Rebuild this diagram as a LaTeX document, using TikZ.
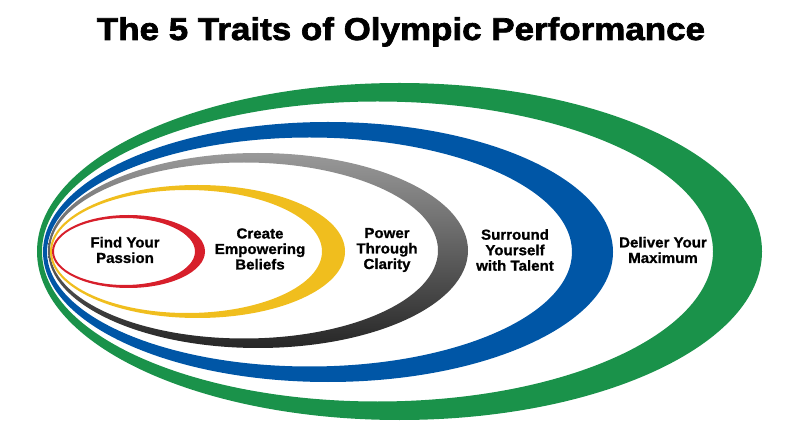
\documentclass[tikz,border=0pt]{standalone}
\usepackage{fontspec}
\setmainfont{Liberation Sans}
\newfontfamily\titlefont[FakeBold=2.2,FakeStretch=1.11]{Liberation Sans Bold}
\newfontfamily\traitfont[FakeBold=1,FakeStretch=1.04]{Liberation Sans Bold}
\definecolor{ringred}{HTML}{D71F2B}
\definecolor{ringyellow}{HTML}{F0BE1E}
\definecolor{ringblue}{HTML}{0056A6}
\definecolor{ringgreen}{HTML}{1A924A}
\tikzset{trait/.style={align=center,inner sep=0pt,font=\traitfont\fontsize{14.5}{15.5}\selectfont}}
\begin{document}
\begin{tikzpicture}[x=1pt,y=1pt]
\useasboundingbox (0,0) rectangle (800,-435);
\node[anchor=base,font=\titlefont\fontsize{31.5}{36}\selectfont] (title) at (401,-40) {The 5 Traits of Olympic Performance};
% rings, from the outside in
\fill[ringgreen,even odd rule] (399.5,-251.5) ellipse [x radius=362.5pt,y radius=168.5pt] (377.5,-251.5) ellipse [x radius=335.5pt,y radius=150pt];
\fill[ringblue,even odd rule] (328,-252) ellipse [x radius=285pt,y radius=130pt] (309.5,-252) ellipse [x radius=262.5pt,y radius=114.5pt];
\shade[top color=black!40,bottom color=black!85,even odd rule] (258,-250.5) ellipse [x radius=210pt,y radius=97.5pt] (244,-250.5) ellipse [x radius=194pt,y radius=88pt];
\fill[ringyellow,even odd rule] (197.5,-251.5) ellipse [x radius=147.5pt,y radius=66.5pt] (187,-251.5) ellipse [x radius=135pt,y radius=61.5pt];
\fill[ringred,even odd rule] (128.5,-251.5) ellipse [x radius=76.5pt,y radius=36.5pt] (124.5,-251.5) ellipse [x radius=70.5pt,y radius=33.5pt];
% labels
\node[trait] (passion) at (125,-250) {Find Your\\Passion};
\node[trait] (beliefs) at (260,-249) {Create\\Empowering\\Beliefs};
\node[trait] (clarity) at (387,-250) {Power\\Through\\Clarity};
\node[trait] (talent) at (515,-250) {Surround\\Yourself\\with Talent};
\node[trait] (maximum) at (663,-250) {Deliver Your\\Maximum};
\end{tikzpicture}
\end{document}
